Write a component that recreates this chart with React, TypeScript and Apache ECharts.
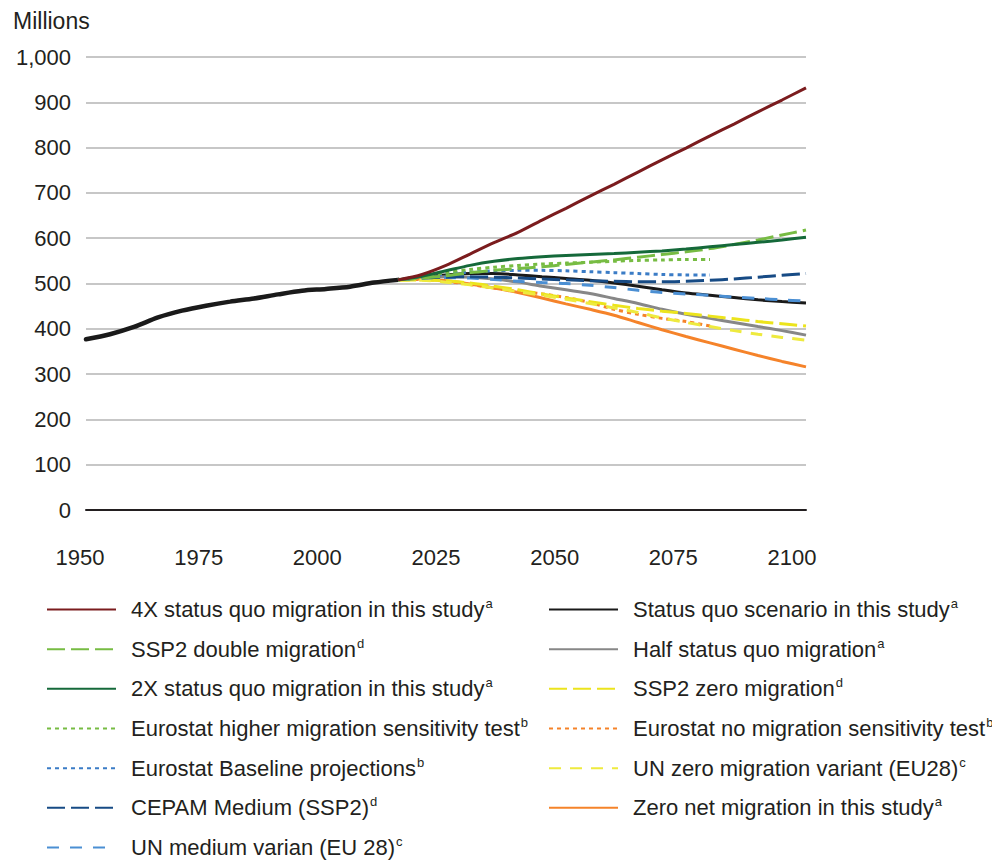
import React, { useEffect, useRef } from "react";
import * as echarts from "echarts";

// ---------- data ----------
const histYears = [1950, 1955, 1960, 1965, 1970, 1975, 1980, 1985, 1990, 1995, 2000, 2005, 2010, 2015];
const historical = [377, 388, 404, 425, 440, 451, 460, 467, 476, 484, 488, 493, 502, 508];

const projYears = [2015, 2020, 2025, 2030, 2035, 2040, 2045, 2050, 2055, 2060, 2065, 2070, 2075, 2080, 2085, 2090, 2095, 2100];
const eurostatYears = [2015, 2020, 2025, 2030, 2035, 2040, 2045, 2050, 2055, 2060, 2065, 2070, 2075, 2080];

const fourXStatusQuo = [508, 520, 540, 565, 590, 613, 640, 666, 693, 719, 746, 773, 799, 826, 852, 879, 905, 932];
const statusQuo = [508, 514, 519, 522, 522, 519, 515, 511, 507, 501, 494, 486, 479, 474, 469, 464, 460, 457];
const ssp2Double = [508, 512, 517, 524, 529, 533, 537, 542, 547, 552, 558, 564, 570, 577, 586, 596, 607, 618];
const halfStatusQuo = [508, 513, 515, 514, 510, 503, 494, 486, 478, 467, 456, 443, 432, 423, 414, 405, 396, 386];
const twoXStatusQuo = [508, 516, 528, 540, 549, 555, 559, 562, 564, 566, 569, 572, 576, 581, 586, 591, 596, 602];
const ssp2Zero = [507, 508, 506, 501, 494, 486, 477, 468, 460, 452, 445, 439, 434, 428, 422, 416, 411, 406];
const eurostatHigher = [508, 516, 524, 531, 536, 540, 543, 545, 547, 549, 551, 552, 553, 553];
const eurostatNoMigration = [508, 509, 505, 498, 490, 483, 477, 469, 458, 443, 432, 423, 416, 406];
const eurostatBaseline = [508, 515, 521, 525, 528, 529, 529, 528, 526, 524, 522, 520, 519, 519];
const unZero = [508, 507, 503, 497, 490, 482, 474, 465, 456, 446, 436, 424, 414, 405, 396, 388, 381, 375];
const cepamMedium = [508, 512, 514, 515, 514, 512, 510, 508, 506, 505, 504, 504, 505, 507, 510, 514, 518, 522];
const zeroNet = [508, 510, 506, 499, 490, 480, 468, 455, 443, 430, 414, 398, 383, 369, 355, 341, 328, 316];
const unMedium = [508, 512, 513, 512, 509, 505, 502, 500, 496, 491, 485, 480, 477, 474, 470, 467, 464, 461];

const N_4X = "4X status quo migration in this study";
const N_SQ = "Status quo scenario in this study";
const N_SSP2D = "SSP2 double migration";
const N_HALF = "Half status quo migration";
const N_2X = "2X status quo migration in this study";
const N_SSP2Z = "SSP2 zero migration";
const N_EHI = "Eurostat higher migration sensitivity test";
const N_ENO = "Eurostat no migration sensitivity test";
const N_EBASE = "Eurostat Baseline projections";
const N_UNZ = "UN zero migration variant (EU28)";
const N_CEPAM = "CEPAM Medium (SSP2)";
const N_ZERO = "Zero net migration in this study";
const N_UNM = "UN medium varian (EU 28)";

const legendLeft = [N_4X, N_SSP2D, N_2X, N_EHI, N_EBASE, N_CEPAM, N_UNM];
const legendRight = [N_SQ, N_HALF, N_SSP2Z, N_ENO, N_UNZ, N_ZERO];

const footnotes: Record<string, string> = {
  [N_4X]: "a", [N_SQ]: "a", [N_SSP2D]: "d", [N_HALF]: "a", [N_2X]: "a",
  [N_SSP2Z]: "d", [N_EHI]: "b", [N_ENO]: "b", [N_EBASE]: "b", [N_UNZ]: "c",
  [N_CEPAM]: "d", [N_ZERO]: "a", [N_UNM]: "c",
};

const xTicks = [1950, 1975, 2000, 2025, 2050, 2075, 2100];
const yTicks = [0, 100, 200, 300, 400, 500, 600, 700, 800, 900, 1000];

// ---------- styles ----------
const TEXT = "#231f20";
const FONT = "'Liberation Sans', Arial, sans-serif";

type Spec = { name: string; years: number[]; values: number[]; color: string; dash: any; width: number };

const specs: Spec[] = [
  { name: N_SQ, years: projYears, values: statusQuo, color: "#1a1a1a", dash: "solid", width: 3 },
  { name: N_HALF, years: projYears, values: halfStatusQuo, color: "#878787", dash: "solid", width: 3 },
  { name: N_ZERO, years: projYears, values: zeroNet, color: "#f5832a", dash: "solid", width: 3 },
  { name: N_ENO, years: eurostatYears, values: eurostatNoMigration, color: "#f5832a", dash: [4, 4], width: 3 },
  { name: N_SSP2Z, years: projYears, values: ssp2Zero, color: "#ece41c", dash: [18, 6], width: 3 },
  { name: N_UNZ, years: projYears, values: unZero, color: "#eeea3e", dash: [12, 9], width: 3 },
  { name: N_UNM, years: projYears, values: unMedium, color: "#4b8fd3", dash: [12, 11], width: 3 },
  { name: N_CEPAM, years: projYears, values: cepamMedium, color: "#174b85", dash: [18, 6], width: 3 },
  { name: N_EBASE, years: eurostatYears, values: eurostatBaseline, color: "#3b7cc6", dash: [4, 4], width: 3 },
  { name: N_EHI, years: eurostatYears, values: eurostatHigher, color: "#77bc43", dash: [4, 4], width: 3 },
  { name: N_SSP2D, years: projYears, values: ssp2Double, color: "#77bc43", dash: [18, 6], width: 3 },
  { name: N_2X, years: projYears, values: twoXStatusQuo, color: "#15693a", dash: "solid", width: 3 },
  { name: N_4X, years: projYears, values: fourXStatusQuo, color: "#7b1c1e", dash: "solid", width: 3 },
];

const zip = (xs: number[], ys: number[]) => xs.map((x, i) => [x, ys[i]]);

// x-label rich styles: labels sit slightly left of their ticks, increasingly towards the right
const xLabelRich: Record<string, any> = {};
xTicks.forEach((_, i) => {
  const shift = 6 + (i / (xTicks.length - 1)) * 8;
  xLabelRich["p" + i] = { fontFamily: FONT, fontSize: 22, color: TEXT, padding: [0, shift * 2, 0, 0] };
});

export default function App() {
  const ref = useRef<HTMLDivElement>(null);

  useEffect(() => {
    if (!ref.current) return;
    const chart = echarts.init(ref.current, undefined, { renderer: "svg" });

    const legendCommon = (left: number, data: string[]) => ({
      orient: "vertical",
      left,
      top: 597,
      padding: 0,
      itemWidth: 69,
      itemHeight: 22,
      itemGap: 14.67,
      selectedMode: false,
      data,
      itemStyle: { opacity: 0, color: "rgba(0,0,0,0)", borderWidth: 0, borderColor: "rgba(0,0,0,0)" },
      formatter: (name: string) => `{t|${name}}{s|${footnotes[name] || ""}}`,
      textStyle: {
        color: TEXT,
        fontFamily: FONT,
        fontSize: 22,
        rich: {
          t: { fontFamily: FONT, fontSize: 22, color: TEXT, lineHeight: 26, padding: [0, 0, 0, 10] },
          s: { fontFamily: FONT, fontSize: 13, color: TEXT, lineHeight: 13, padding: [0, 0, 12, 1] },
        },
      },
    });

    const option: any = {
      animation: false,
      backgroundColor: "#ffffff",
      grid: { left: 86, top: 57, width: 720, height: 453, containLabel: false },
      graphic: [
        {
          type: "text",
          left: 13,
          top: 9,
          style: { text: "Millions", fontFamily: FONT, fontSize: 23, fill: TEXT },
        },
      ],
      legend: [legendCommon(46, legendLeft), legendCommon(548, legendRight)],
      xAxis: {
        type: "value",
        min: xTicks[0],
        max: xTicks[xTicks.length - 1],
        interval: 25,
        axisLine: { show: true, onZero: true, lineStyle: { color: TEXT, width: 2 } },
        axisTick: { show: false },
        splitLine: { show: false },
        axisLabel: {
          color: TEXT,
          fontFamily: FONT,
          fontSize: 22,
          margin: 36,
          formatter: (v: number) => {
            const i = xTicks.indexOf(v);
            return `{p${i < 0 ? 0 : i}|${v}}`;
          },
          rich: xLabelRich,
        },
      },
      yAxis: {
        type: "value",
        min: yTicks[0],
        max: yTicks[yTicks.length - 1],
        interval: 100,
        axisLine: { show: false },
        axisTick: { show: false },
        splitLine: { show: true, lineStyle: { color: "#b5b5b5", width: 1.5 } },
        axisLabel: {
          color: TEXT,
          fontFamily: FONT,
          fontSize: 22,
          margin: 15,
          formatter: (v: number) => v.toLocaleString("en-US"),
        },
      },
      series: [
        {
          name: "Historical",
          type: "line",
          data: zip(histYears, historical),
          symbol: "none",
          smooth: 0.3,
          lineStyle: { color: "#1a1a1a", width: 4.5, cap: "round" },
          itemStyle: { color: "#1a1a1a" },
          z: 3,
        },
        ...specs.map((s) => ({
          name: s.name,
          type: "line",
          data: zip(s.years, s.values),
          symbol: "none",
          smooth: 0.3,
          lineStyle: { color: s.color, width: s.width, type: s.dash, cap: "butt" },
          itemStyle: { color: s.color },
          z: 3,
        })),
      ],
    };

    chart.setOption(option);
    return () => chart.dispose();
  }, []);

  return (
    <div
      ref={ref}
      style={{ position: "fixed", left: 0, top: 0, width: 992, height: 861, background: "#fff" }}
    />
  );
}
